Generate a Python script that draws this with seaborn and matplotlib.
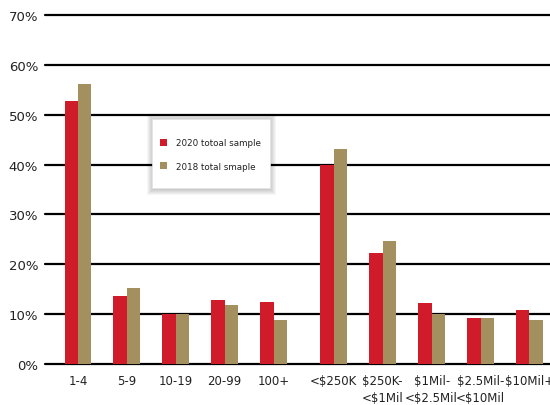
import matplotlib
matplotlib.use("Agg")
import matplotlib.pyplot as plt
from matplotlib.patches import Rectangle
import seaborn as sns
import pandas as pd

# Categories: company size (employees) and revenue bands
categories = ["1-4", "5-9", "10-19", "20-99", "100+",
              "<$250K", "$250K-\n<$1Mil", "$1Mil-\n<$2.5Mil", "$2.5Mil-\n<$10Mil", "$10Mil+"]
# slot positions: a small extra gap separates the size group from the revenue group
positions = [0, 1, 2, 3, 4, 5.23, 6.23, 7.23, 8.23, 9.23]

series_names = ["2020 totoal sample", "2018 total smaple"]
values_2020 = [52.8, 13.6, 10.0, 12.8, 12.4, 40.0, 22.3, 12.2, 9.2, 10.9]
values_2018 = [56.1, 15.2, 10.0, 11.8, 8.9, 43.2, 24.7, 10.1, 9.2, 8.8]

yticks = [0, 10, 20, 30, 40, 50, 60, 70]

df = pd.DataFrame({
    "pos": positions * 2,
    "value": values_2020 + values_2018,
    "series": [series_names[0]] * len(positions) + [series_names[1]] * len(positions),
})

sns.set_style("white")
plt.rcParams["font.family"] = ["DejaVu Sans"]

W, H = 550, 406
fig = plt.figure(figsize=(W / 100, H / 100), dpi=100)
ax = fig.add_axes([45 / W, 41 / H, 1 - 45 / W, 349 / H])

palette = {series_names[0]: "#D01C2A", series_names[1]: "#A48F5F"}
sns.barplot(data=df, x="pos", y="value", hue="series", native_scale=True,
            palette=palette, width=0.55, gap=0, saturation=1,
            edgecolor="none", ax=ax, zorder=3)

ax.set_xlim(-0.675, 9.65)
ax.set_ylim(0, 70)
ax.set_yticks(yticks)
ax.set_yticklabels([f"{t}%" for t in yticks], fontsize=9.5, color="#222222")
ax.set_xticks(positions)
ax.set_xticklabels(categories, fontsize=8.5, color="#222222", linespacing=1.45,
                   va="top")
ax.tick_params(axis="x", length=0, pad=7)
ax.tick_params(axis="y", length=0, pad=5)

for t in yticks:
    ax.axhline(t, color="black", linewidth=1.6, zorder=1, clip_on=False)

for s in ax.spines.values():
    s.set_visible(False)
ax.set_xlabel("")
ax.set_ylabel("")
ax.grid(False)

# legend box with a soft shadow, drawn in figure pixels
bx, by, bw, bh = 152, 120, 118, 69
for k in range(6, 0, -1):
    ax.add_patch(Rectangle(((bx - k + 1) / W, (H - by - bh - k - 1) / H),
                           (bw + 2 * k - 1) / W, (bh + 2 * k) / H,
                           transform=fig.transFigure, facecolor="black",
                           edgecolor="none", alpha=0.035, zorder=4,
                           clip_on=False))
ax.add_patch(Rectangle((bx / W, (H - by - bh) / H), bw / W, bh / H,
                       transform=fig.transFigure, facecolor="white",
                       edgecolor="#e4e4e4", linewidth=0.5, zorder=4.5,
                       clip_on=False))

leg = ax.legend(loc="center left", bbox_to_anchor=((160 - 45) / 505, (365 - 155.5) / 349),
                frameon=False, fontsize=6.3, handlelength=0.8, handleheight=0.8,
                labelspacing=1.67, borderpad=0, handletextpad=1.0,
                borderaxespad=0)
leg.set_zorder(5)
for txt in leg.get_texts():
    txt.set_color("#222222")

fig.savefig("out.png", dpi=100)
